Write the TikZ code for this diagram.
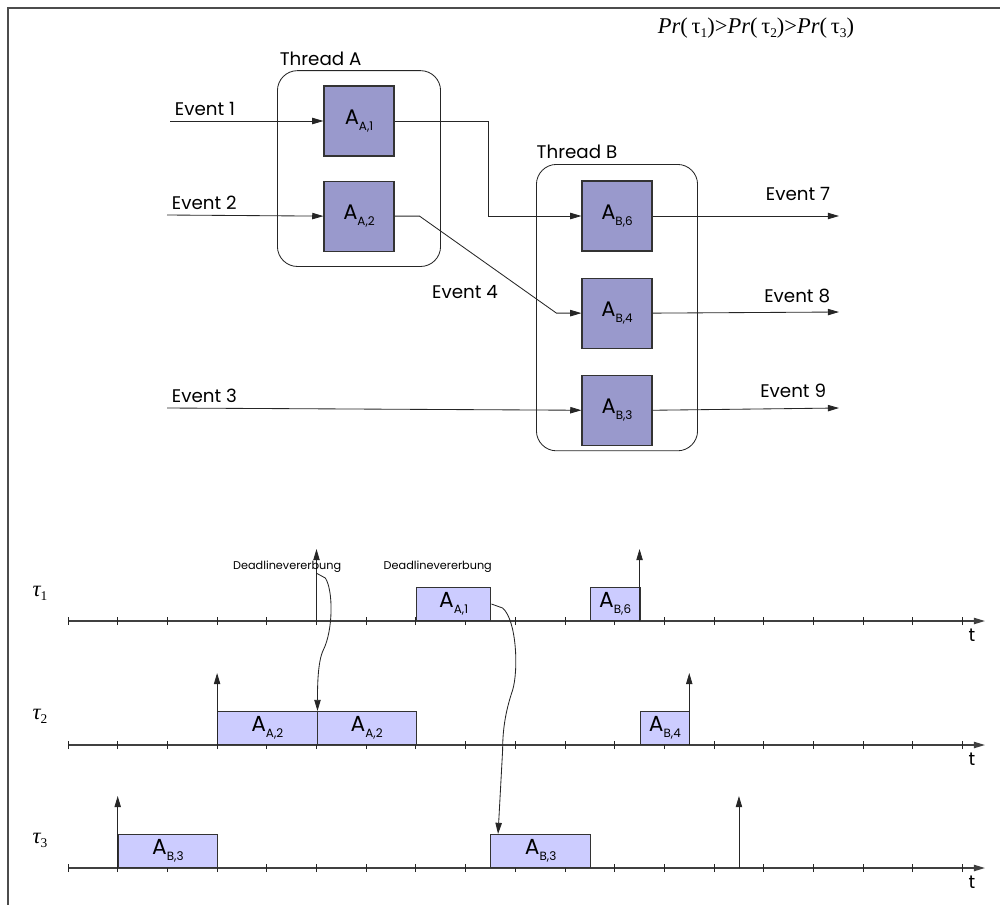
\documentclass[tikz,border=0pt]{standalone}
\usepackage{fontspec}
\setmainfont{Poppins}
\newfontfamily\timesfont{Liberation Serif}
\usepackage{tikz}
\usetikzlibrary{arrows.meta, positioning, fit}
\definecolor{taskfill}{RGB}{153,153,204}
\definecolor{jobfill}{RGB}{204,204,255}
\newcommand{\actlbl}[1]{A\raisebox{-4pt}{\fontsize{8.5}{10}\selectfont #1}}
\newcommand{\tsub}[1]{\raisebox{-3pt}{\fontsize{9.5}{10}\selectfont\upshape #1}}

\begin{document}
\begin{tikzpicture}[
  task/.style={rectangle, draw=black!80, line width=0.8pt, fill=taskfill,
               minimum width=1.75cm, minimum height=1.75cm, inner sep=0pt,
               font=\fontsize{15}{17}\selectfont},
  thread/.style={rectangle, rounded corners=0.5cm, draw=black!85, line width=0.6pt},
  job/.style={rectangle, draw=black!80, line width=0.7pt, fill=jobfill,
              minimum width=#1*1.2425cm, minimum height=0.825cm, inner sep=0pt,
              anchor=south west, font=\fontsize{15.5}{17}\selectfont},
  evlbl/.style={font=\fontsize{13}{15}\selectfont},
  dlbl/.style={font=\fontsize{8}{9}\selectfont},
  tau/.style={font=\timesfont\itshape\fontsize{16}{18}\selectfont},
  arrow/.style={-{Triangle[length=2.8mm,width=1.6mm]}, draw=black!85, line width=0.6pt},
  taxis/.style={arrow, draw=black!75, line width=0.9pt},
  tickmark/.style={draw=black!85, line width=0.6pt},
  frame/.style={draw=black!70, line width=1pt},
  node distance=0.6cm
]
\useasboundingbox (0,0) rectangle (25,-22.625);
\draw[frame] (25,-0.2) -- (0.2,-0.2) -- (0.2,-22.625);

\node (prio) at (18.9,-0.7) {\timesfont\fontsize{16}{18}\selectfont
  \itshape Pr\upshape(\,τ\tsub{1})>\itshape Pr\upshape(\,τ\tsub{2})>\itshape Pr\upshape(\,τ\tsub{3})};

\node[task] (aa1) at (8.975,-3.025) {\actlbl{A,1}};
\node[task, below=0.6cm of aa1] (aa2) {\actlbl{A,2}};
\node[thread, fit=(aa1)(aa2), inner xsep=1.15cm, inner ysep=0.37cm] (thA) {};
\node[evlbl, above=0pt of thA, xshift=-0.96cm] (thAlbl) {Thread A};

\node[task] (ab6) at (15.425,-5.4) {\actlbl{B,6}};
\node[task, below=0.65cm of ab6] (ab4) {\actlbl{B,4}};
\node[task, below=0.65cm of ab4] (ab3) {\actlbl{B,3}};
\node[thread, fit={(ab6)(ab3)([yshift=0.4cm]ab6.north)([yshift=-0.125cm]ab3.south)},
      inner xsep=1.125cm, inner ysep=0pt] (thB) {};
\node[evlbl, above=0pt of thB, xshift=-1.0cm] (thBlbl) {Thread B};

\coordinate (ev1) at (4.25,-3.025);
\coordinate (ev2) at (4.175,-5.375);
\coordinate (ev3) at (4.175,-10.2);
\coordinate (ev7) at (20.975,-5.4);
\coordinate (ev8) at (20.975,-7.8);
\coordinate (ev9) at (20.975,-10.2);
\node[evlbl, above right=0pt of ev1] (ev1lbl) {Event 1};
\node[evlbl, above right=0pt of ev2] (ev2lbl) {Event 2};
\node[evlbl, above right=0pt of ev3] (ev3lbl) {Event 3};
\node[evlbl] (ev4lbl) at (11.625,-7.3) {Event 4};
\node[evlbl, above left=0.25cm and 0.1cm of ev7] (ev7lbl) {Event 7};
\node[evlbl, above left=0.1cm and 0.1cm of ev8] (ev8lbl) {Event 8};
\node[evlbl, above left=0.125cm and 0.2cm of ev9] (ev9lbl) {Event 9};

\draw[arrow] (ev1) -- (aa1.west);
\draw[arrow] (ev2) -- (aa2.west);
\draw[arrow] (ev3) -- (ab3.west);
\draw[arrow] (aa1.east) -- ++(2.35,0) |- (ab6.west);
\draw[arrow] (aa2.east) -- ++(0.625,0) -- ([xshift=-0.625cm]ab4.west) -- (ab4.west);
\draw[arrow] (ab6.east) -- (ev7);
\draw[arrow] (ab4.east) -- (ev8);
\draw[arrow] (ab3.east) -- (ev9);

\node[tau] (tau1) at (1.0,-14.825) {τ\tsub{1}};
\node[tau] (tau2) at (1.0,-17.9) {τ\tsub{2}};
\node[tau] (tau3) at (1.0,-21.0) {τ\tsub{3}};

\begin{scope}[x=1.2425cm, xshift=1.7cm]
\foreach \n/\y in {1/-15.525, 2/-18.625, 3/-21.7} {
  \draw[taxis] (0,\y) coordinate (ax\n) -- (18.45,\y);
  \foreach \k in {0,...,18} \draw[tickmark] (\k,\y-0.1) -- (\k,\y+0.1);
  \node[evlbl] (tlbl\n) at (18.19,\y-0.36) {t};
}
\node[job=1.5] (t1a) at (7,-15.525)    {\actlbl{A,1}};
\node[job=1]   (t1b) at (10.5,-15.525) {\actlbl{B,6}};
\node[job=2]   (t2a) at (3,-18.625)    {\actlbl{A,2}};
\node[job=2]   (t2b) at (5,-18.625)    {\actlbl{A,2}};
\node[job=1]   (t2c) at (11.5,-18.625) {\actlbl{B,4}};
\node[job=2]   (t3a) at (1,-21.7)      {\actlbl{B,3}};
\node[job=2]   (t3b) at (8.5,-21.7)    {\actlbl{B,3}};
\foreach \k/\y in {5/-15.525, 11.5/-15.525, 3/-18.625, 12.5/-18.625, 1/-21.7, 13.5/-21.7}
  \draw[arrow] (\k,\y) -- ++(0,1.8);
\coordinate (inh1) at (5,-14.33);
\node[dlbl] (dl1) at (4.41,-14.175) {Deadlinevererbung};
\node[dlbl] (dl2) at (7.44,-14.175) {Deadlinevererbung};
\end{scope}

\draw[arrow] (inh1) -- ++(0.22,-0.12) .. controls +(0.2,-0.3) and +(0.25,0.5) .. ++(-0.05,-1.8)
  .. controls +(-0.15,-0.3) and +(0,0.5) .. (t2a.north east);
\draw[arrow] (t1a.east) -- ++(0.28,-0.1) .. controls +(0.35,-0.3) and +(0.15,0.5) .. ++(0.25,-2.05)
  .. controls +(-0.15,-0.45) and +(0,0.6) .. ++(-0.25,-1.5) -- ([xshift=0.19cm]t3b.north west);
\end{tikzpicture}
\end{document}
